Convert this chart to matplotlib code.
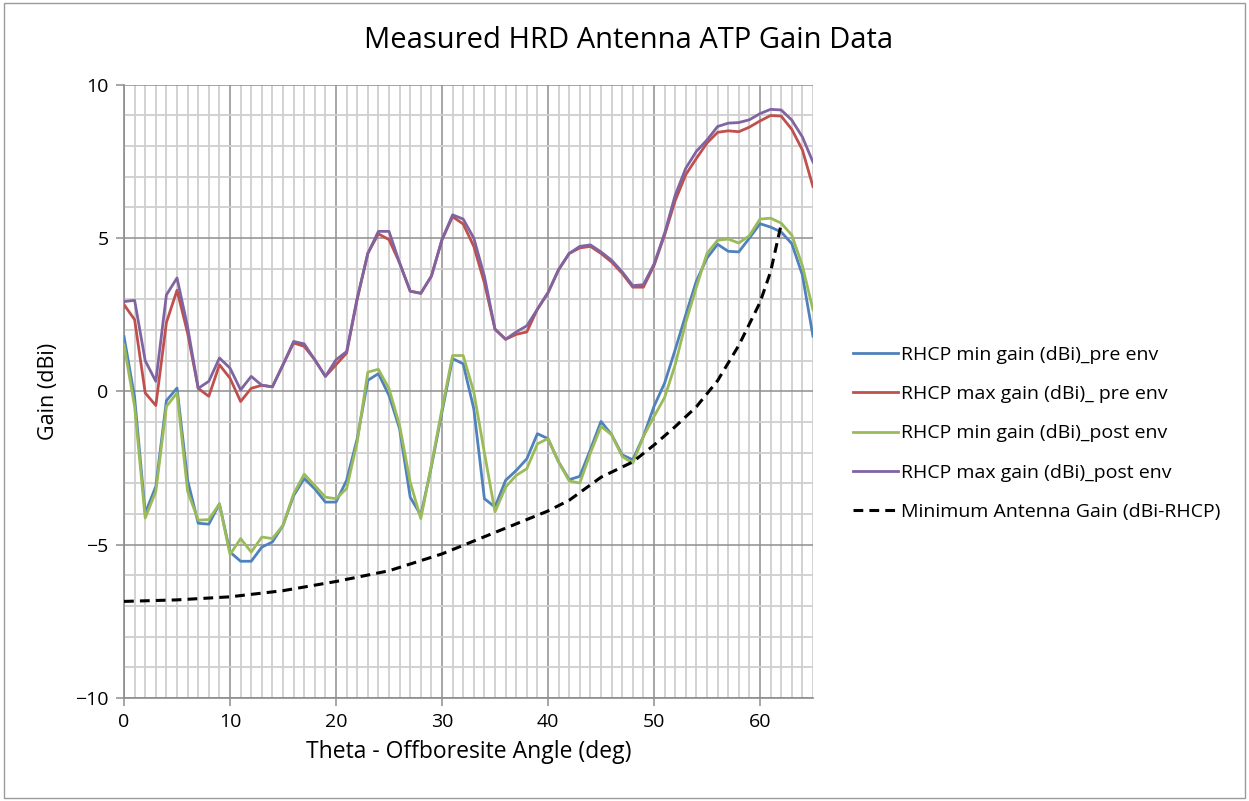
import numpy as np
import matplotlib
matplotlib.use("Agg")
import matplotlib.pyplot as plt
from matplotlib.patches import Rectangle
from matplotlib.ticker import MultipleLocator

plt.rcParams["font.family"] = ["Open Sans", "DejaVu Sans"]

# data <<<
theta = list(range(0, 66))

rhcp_min_pre = [
    1.79, -0.2, -3.97, -3.1, -0.3, 0.11, -2.9, -4.3, -4.33, -3.67,
    -5.24, -5.54, -5.54, -5.08, -4.91, -4.37, -3.4, -2.84, -3.18, -3.61,
    -3.61, -2.9, -1.54, 0.36, 0.58, -0.13, -1.22, -3.45, -4.04, -2.45,
    -0.67, 1.07, 0.9, -0.57, -3.5, -3.77, -2.9, -2.58, -2.2, -1.38,
    -1.54, -2.3, -2.88, -2.77, -1.9, -0.98, -1.41, -2.07, -2.23, -1.47,
    -0.49, 0.27, 1.36, 2.5, 3.6, 4.35, 4.8, 4.57, 4.55, 5.0,
    5.47, 5.36, 5.2, 4.82, 3.8, 1.8,
]
rhcp_max_pre = [
    2.83, 2.34, -0.05, -0.46, 2.25, 3.3, 1.9, 0.1, -0.16, 0.87,
    0.43, -0.33, 0.1, 0.2, 0.15, 0.87, 1.58, 1.47, 1.03, 0.49,
    0.87, 1.25, 3.0, 4.5, 5.14, 4.95, 4.19, 3.27, 3.2, 3.76,
    4.95, 5.7, 5.46, 4.73, 3.54, 2.03, 1.7, 1.86, 1.94, 2.68,
    3.22, 3.97, 4.5, 4.68, 4.73, 4.5, 4.22, 3.85, 3.4, 3.4,
    4.1, 5.1, 6.22, 7.07, 7.6, 8.1, 8.45, 8.5, 8.47, 8.62,
    8.82, 9.0, 8.98, 8.55, 7.88, 6.68,
]
rhcp_min_post = [
    1.52, -0.5, -4.13, -3.26, -0.49, -0.05, -3.26, -4.2, -4.18, -3.67,
    -5.32, -4.8, -5.24, -4.75, -4.8, -4.37, -3.34, -2.7, -3.07, -3.45,
    -3.5, -3.17, -1.65, 0.63, 0.72, 0.09, -1.11, -2.96, -4.15, -2.4,
    -0.57, 1.17, 1.17, -0.02, -2.0, -3.93, -3.12, -2.74, -2.52, -1.71,
    -1.54, -2.3, -2.92, -2.99, -2.01, -1.14, -1.41, -2.12, -2.34, -1.47,
    -0.82, -0.2, 0.87, 2.25, 3.4, 4.5, 4.93, 4.97, 4.84, 5.08,
    5.62, 5.65, 5.49, 5.1, 4.1, 2.66,
]
rhcp_max_post = [
    2.93, 2.97, 1.0, 0.33, 3.15, 3.7, 2.1, 0.1, 0.33, 1.09,
    0.76, 0.05, 0.49, 0.2, 0.15, 0.87, 1.63, 1.55, 1.03, 0.49,
    1.03, 1.3, 3.05, 4.5, 5.22, 5.22, 4.19, 3.27, 3.2, 3.76,
    4.95, 5.76, 5.62, 5.0, 3.76, 2.03, 1.7, 1.94, 2.14, 2.68,
    3.22, 3.97, 4.5, 4.73, 4.78, 4.55, 4.28, 3.9, 3.45, 3.48,
    4.15, 5.16, 6.4, 7.28, 7.83, 8.2, 8.64, 8.75, 8.77, 8.86,
    9.06, 9.2, 9.18, 8.85, 8.3, 7.48,
]

theta_req = [0, 5, 10, 15, 20, 25, 30, 35, 40, 42, 45, 48, 50, 52, 54, 56, 58, 60, 61, 62]
min_gain_req = [-6.85, -6.8, -6.7, -6.5, -6.2, -5.85, -5.3, -4.6, -3.9, -3.55,
                -2.8, -2.3, -1.75, -1.15, -0.5, 0.35, 1.5, 2.9, 3.9, 5.45]
# >>>

# plot <<<
fig = plt.figure(figsize=(12.49, 8.01), dpi=100)
ax = fig.add_axes([0.0993, 0.1286, 0.5516, 0.7655])

# chart-area frame
fig.patches.append(Rectangle((0.003, 0.004), 0.994, 0.992, transform=fig.transFigure,
                             fill=False, edgecolor="#9a9a9a", linewidth=1.0))

ax.plot(theta, rhcp_min_pre, color="#4F81BD", lw=2.0, label="RHCP min gain (dBi)_pre env", zorder=3)
ax.plot(theta, rhcp_max_pre, color="#C0504D", lw=2.0, label="RHCP max gain (dBi)_ pre env", zorder=3)
ax.plot(theta, rhcp_min_post, color="#9BBB59", lw=2.0, label="RHCP min gain (dBi)_post env", zorder=3)
ax.plot(theta, rhcp_max_post, color="#8064A2", lw=2.0, label="RHCP max gain (dBi)_post env", zorder=3)
ax.plot(theta_req, min_gain_req, color="black", lw=2.2, ls=(0, (3.2, 2.0)),
        label="Minimum Antenna Gain (dBi-RHCP)", zorder=4)

ax.set_xlim(0, 65)
ax.set_ylim(-10, 10)
ax.xaxis.set_major_locator(MultipleLocator(10))
ax.xaxis.set_minor_locator(MultipleLocator(1))
ax.yaxis.set_major_locator(MultipleLocator(5))
ax.yaxis.set_minor_locator(MultipleLocator(1))

ax.grid(True, which="minor", color="#cfcfcf", lw=1.3, zorder=0)
ax.grid(True, which="major", color="#8e8e8e", lw=1.1, zorder=1)
ax.set_axisbelow(True)

for s in ["top", "right"]:
    ax.spines[s].set_visible(False)
for s in ["left", "bottom"]:
    ax.spines[s].set_color("#8e8e8e")
    ax.spines[s].set_linewidth(1.2)

ax.tick_params(which="major", direction="out", length=6, width=1.1, color="#8e8e8e",
               labelsize=14, pad=5)
ax.tick_params(which="minor", length=0)

ax.set_xlabel("Theta - Offboresite Angle (deg)", fontsize=16.5, labelpad=6)
ax.set_ylabel("Gain (dBi)", fontsize=15.5, labelpad=12)
fig.text(0.503, 0.949, "Measured HRD Antenna ATP Gain Data", ha="center", va="center", fontsize=21)

ax.legend(loc="center left", bbox_to_anchor=(0.669, 0.459), bbox_transform=fig.transFigure,
          frameon=False, fontsize=14, handlelength=2.3, labelspacing=1.1, handletextpad=0.15)

fig.savefig("out.png", dpi=100)
# >>>
